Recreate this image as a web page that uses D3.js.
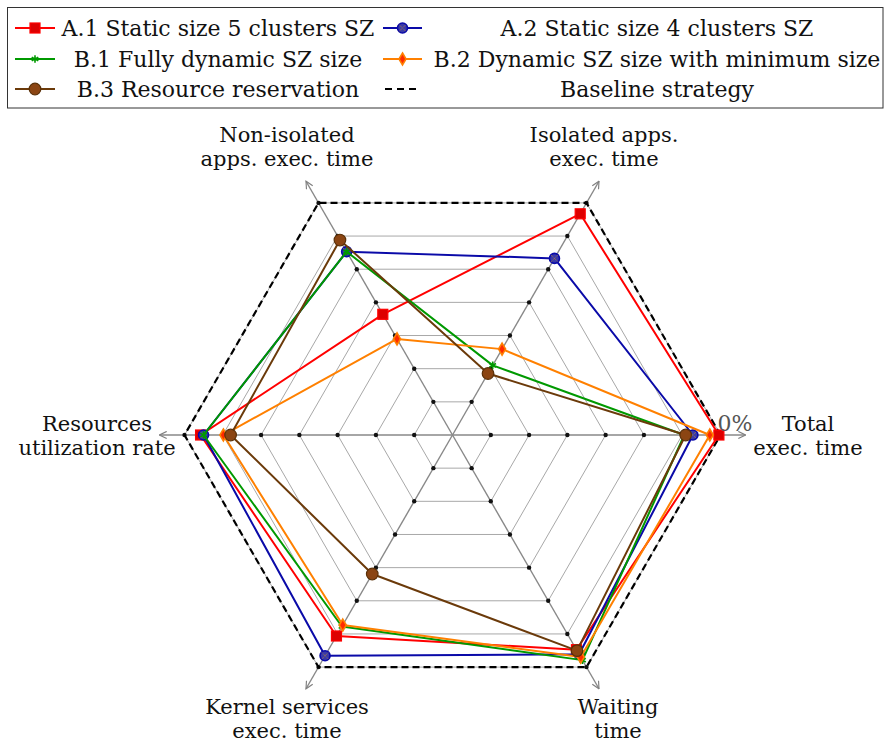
<!DOCTYPE html>
<html><head><meta charset="utf-8">
<script src="https://cdn.jsdelivr.net/npm/d3@7"></script>
<style>
html,body{margin:0;padding:0;background:#fff;}
text{font-family:"DejaVu Serif","Liberation Serif",serif;}
</style></head>
<body>
<svg id="chart" width="889" height="744"></svg>
<script>
// ---------- data ----------
const axisLabels = [
  ["Total", "exec. time"],
  ["Isolated apps.", "exec. time"],
  ["Non-isolated", "apps. exec. time"],
  ["Resources", "utilization rate"],
  ["Kernel services", "exec. time"],
  ["Waiting", "time"]
];
const seriesNames = [
  "A.1 Static size 5 clusters SZ",
  "A.2 Static size 4 clusters SZ",
  "B.1 Fully dynamic SZ size",
  "B.2 Dynamic SZ size with minimum size",
  "B.3 Resource reservation",
  "Baseline strategy"
];
const a1 = [0.994, 0.953, 0.52, 0.94, 0.866, 0.925];
const a2 = [0.897, 0.761, 0.79, 0.929, 0.951, 0.945];
const b1 = [0.865, 0.30, 0.79, 0.929, 0.825, 0.97];
const b2 = [0.96, 0.37, 0.414, 0.855, 0.819, 0.957];
const b3 = [0.87, 0.265, 0.84, 0.828, 0.599, 0.929];
const baseline = [1, 1, 1, 1, 1, 1];
const ringLevels = [1/7, 2/7, 3/7, 4/7, 5/7, 6/7, 1];
const tickLabel = "0%";

// ---------- layout ----------
const svg = d3.select("#chart");
const cx = 452.5, cy = 435, R = 268, axisLen = 293;
const r = d3.scaleLinear().domain([0, 1]).range([0, R]);
const angle = d3.scaleLinear().domain([0, 6]).range([0, 2 * Math.PI]);
const pt = (i, v) => [cx + r(v) * Math.cos(angle(i)), cy - r(v) * Math.sin(angle(i))];

const styles = [
  {data: a1, color: "#ff0000", mark: "square"},
  {data: a2, color: "#0a0aa8", mark: "otimes"},
  {data: b1, color: "#009900", mark: "star"},
  {data: b2, color: "#ff8000", mark: "diamond"},
  {data: b3, color: "#6b3a0a", mark: "brown"}
];

const defs = svg.append("defs");
defs.append("marker").attr("id", "arr").attr("viewBox", "0 0 10 10")
  .attr("refX", 9).attr("refY", 5).attr("markerWidth", 9).attr("markerHeight", 9)
  .attr("markerUnits", "userSpaceOnUse").attr("orient", "auto")
  .append("path").attr("d", "M1,1 L9,5 L1,9").attr("fill", "none")
  .attr("stroke", "#808080").attr("stroke-width", 1.3);

// grid rings
const gGrid = svg.append("g");
const idx = d3.range(6);
ringLevels.forEach(lv => {
  gGrid.append("path")
    .attr("d", d3.line()(idx.map(i => pt(i, lv))) + "Z")
    .attr("fill", "none").attr("stroke", "#a8a8a8").attr("stroke-width", 1);
});
// axes
idx.forEach(i => {
  const end = [cx + axisLen * Math.cos(angle(i)), cy - axisLen * Math.sin(angle(i))];
  gGrid.append("line").attr("x1", cx).attr("y1", cy).attr("x2", end[0]).attr("y2", end[1])
    .attr("stroke", "#888").attr("stroke-width", 1.4).attr("marker-end", "url(#arr)");
});
// dots
idx.forEach(i => ringLevels.forEach(lv => {
  const p = pt(i, lv);
  gGrid.append("circle").attr("cx", p[0]).attr("cy", p[1]).attr("r", 2.2).attr("fill", "#111");
}));

// baseline
svg.append("path").attr("d", d3.line()(idx.map(i => pt(i, baseline[i]))) + "Z")
  .attr("fill", "none").attr("stroke", "#000").attr("stroke-width", 2.2)
  .attr("stroke-dasharray", "7,4");

function drawMark(g, kind, x, y, color) {
  if (kind === "square") {
    g.append("rect").attr("x", x - 5).attr("y", y - 5).attr("width", 10).attr("height", 10)
      .attr("fill", "#dd0000").attr("stroke", "#ff0000").attr("stroke-width", 1.2);
  } else if (kind === "otimes") {
    g.append("circle").attr("cx", x).attr("cy", y).attr("r", 5).attr("fill", "#3a3aa8")
      .attr("stroke", color).attr("stroke-width", 1.6);
    const d = 3.3;
    g.append("path").attr("d", `M${x-d},${y-d}L${x+d},${y+d}M${x-d},${y+d}L${x+d},${y-d}`)
      .attr("stroke", "#b08040").attr("stroke-width", 1).attr("stroke-dasharray", "1,1");
  } else if (kind === "star") {
    g.append("path").attr("transform", `translate(${x},${y})`)
      .attr("d", d3.symbol(d3.symbolAsterisk, 40)())
      .attr("stroke", color).attr("stroke-width", 1.6).attr("fill", "none");
  } else if (kind === "diamond") {
    g.append("path").attr("transform", `translate(${x},${y})`)
      .attr("d", `M0,-6L3.5,0L0,6L-3.5,0Z`)
      .attr("fill", "#ff2a00").attr("stroke", color).attr("stroke-width", 1.6);
  } else if (kind === "brown") {
    g.append("circle").attr("cx", x).attr("cy", y).attr("r", 5.8).attr("fill", "#8b4513")
      .attr("stroke", "#5a3008").attr("stroke-width", 1.2);
  }
}

// series
styles.forEach(s => {
  const g = svg.append("g");
  g.append("path").attr("d", d3.line()(idx.map(i => pt(i, s.data[i]))) + "Z")
    .attr("fill", "none").attr("stroke", s.color).attr("stroke-width", 2)
    .attr("stroke-linejoin", "round");
  idx.forEach(i => { const p = pt(i, s.data[i]); drawMark(g, s.mark, p[0], p[1], s.color); });
});

// 0% label
const p0 = pt(0, 1);
svg.append("text").attr("x", p0[0] - 3).attr("y", p0[1] - 4).text(tickLabel)
  .attr("font-size", 22).attr("fill", "#555");

// axis labels
const labelPos = [
  {x: 808, y: 431}, {x: 604, y: 142}, {x: 287, y: 142},
  {x: 97, y: 431}, {x: 287, y: 714}, {x: 618, y: 714}
];
const FS = 21, LH = 24;
axisLabels.forEach((lines, i) => {
  lines.forEach((t, j) => {
    svg.append("text").attr("x", labelPos[i].x).attr("y", labelPos[i].y + j * LH)
      .attr("text-anchor", "middle").attr("font-size", FS).attr("fill", "#111").text(t);
  });
});

// legend
const lg = svg.append("g");
lg.append("rect").attr("x", 7.5).attr("y", 7.5).attr("width", 875.5).attr("height", 100.5)
  .attr("fill", "#fff").attr("stroke", "#333").attr("stroke-width", 1);
const rowsY = [28, 59, 89];
const colLine = [[15, 55], [383, 422]];
const colText = [218, 657];
seriesNames.forEach((name, k) => {
  const col = k % 2, row = Math.floor(k / 2);
  const y = rowsY[row];
  const [x1, x2] = colLine[col];
  if (k < 5) {
    lg.append("line").attr("x1", x1).attr("x2", x2).attr("y1", y).attr("y2", y)
      .attr("stroke", styles[k].color).attr("stroke-width", 2);
    drawMark(lg, styles[k].mark, (x1 + x2) / 2, y, styles[k].color);
  } else {
    lg.append("line").attr("x1", x1 + 2).attr("x2", x2 - 2).attr("y1", y).attr("y2", y)
      .attr("stroke", "#000").attr("stroke-width", 2).attr("stroke-dasharray", "7,5");
  }
  lg.append("text").attr("x", colText[col]).attr("y", y + 8).attr("text-anchor", "middle")
    .attr("font-size", 22).attr("fill", "#111").text(name);
});
</script>
</body></html>
